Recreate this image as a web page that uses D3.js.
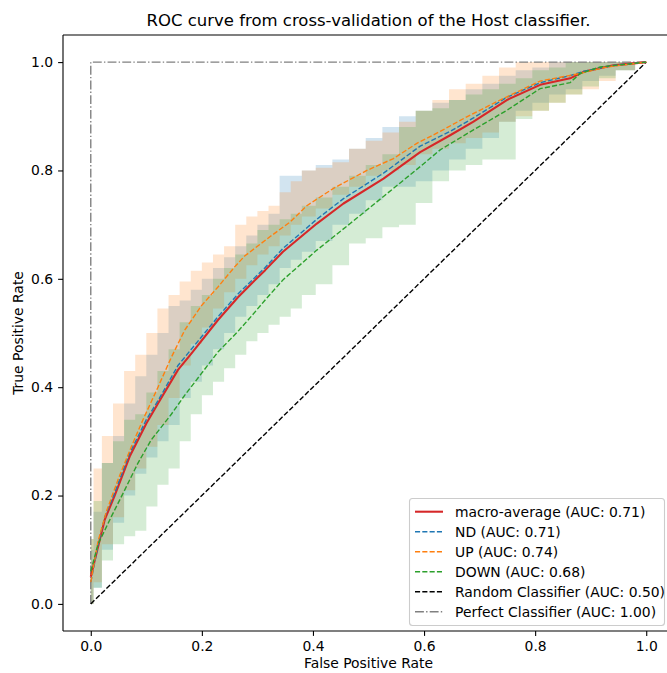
<!DOCTYPE html>
<html>
<head>
<meta charset="utf-8">
<script src="https://cdn.jsdelivr.net/npm/d3@7/dist/d3.min.js"></script>
<style>
  html, body { margin: 0; padding: 0; background: #fff; }
  svg { display: block; font-family: "DejaVu Sans", sans-serif; }
</style>
</head>
<body>
<svg id="chart" width="667" height="673"></svg>
<script>
// ---- ROC curves (mean over folds) ----
const macroFpr = [0, 0.013, 0.025, 0.043, 0.07, 0.1, 0.121, 0.157, 0.181, 0.229, 0.265, 0.29, 0.314, 0.346, 0.407, 0.455, 0.527, 0.593, 0.647, 0.689, 0.749, 0.809, 0.863, 0.887, 0.941, 1];
const macroTpr = [0.05, 0.105, 0.155, 0.2, 0.272, 0.333, 0.37, 0.432, 0.462, 0.524, 0.566, 0.592, 0.616, 0.65, 0.702, 0.739, 0.785, 0.834, 0.865, 0.89, 0.93, 0.958, 0.97, 0.982, 0.994, 1];

const ndFpr = [0, 0.013, 0.025, 0.043, 0.07, 0.1, 0.121, 0.157, 0.181, 0.229, 0.265, 0.29, 0.314, 0.346, 0.407, 0.455, 0.527, 0.593, 0.647, 0.689, 0.749, 0.809, 0.863, 0.887, 0.941, 1];
const ndTpr = [0.04, 0.108, 0.16, 0.205, 0.278, 0.34, 0.375, 0.44, 0.47, 0.53, 0.572, 0.597, 0.621, 0.656, 0.71, 0.748, 0.795, 0.845, 0.872, 0.897, 0.935, 0.962, 0.975, 0.983, 0.994, 1];

const upFpr = [0, 0.013, 0.028, 0.049, 0.073, 0.094, 0.121, 0.145, 0.169, 0.199, 0.229, 0.259, 0.277, 0.3, 0.323, 0.359, 0.389, 0.437, 0.497, 0.545, 0.587, 0.629, 0.677, 0.737, 0.809, 0.881, 0.929, 1];
const upTpr = [0.04, 0.115, 0.17, 0.229, 0.29, 0.34, 0.4, 0.455, 0.505, 0.55, 0.585, 0.622, 0.642, 0.66, 0.678, 0.705, 0.735, 0.767, 0.8, 0.822, 0.85, 0.872, 0.899, 0.93, 0.965, 0.979, 0.991, 1];

const downFpr = [0, 0.013, 0.037, 0.061, 0.085, 0.109, 0.145, 0.169, 0.199, 0.229, 0.265, 0.29, 0.314, 0.346, 0.407, 0.467, 0.527, 0.593, 0.629, 0.689, 0.749, 0.809, 0.863, 0.881, 0.917, 1];
const downTpr = [0.06, 0.11, 0.161, 0.21, 0.26, 0.303, 0.35, 0.385, 0.425, 0.465, 0.503, 0.532, 0.561, 0.598, 0.653, 0.702, 0.752, 0.807, 0.838, 0.875, 0.911, 0.951, 0.962, 0.979, 0.991, 1];

// ---- ±1 std bands, sampled on a common FPR grid ----
const bandFpr = [0, 0.01, 0.03, 0.05, 0.07, 0.09, 0.11, 0.13, 0.15, 0.17, 0.19, 0.21, 0.23, 0.25, 0.27, 0.29, 0.31, 0.33, 0.35, 0.37, 0.39, 0.42, 0.45, 0.48, 0.51, 0.54, 0.57, 0.60, 0.63, 0.66, 0.69, 0.72, 0.75, 0.78, 0.81, 0.84, 0.87, 0.90, 0.93, 0.96, 1.0];

const ndLower = [0, 0.03, 0.10, 0.15, 0.20, 0.24, 0.27, 0.30, 0.33, 0.38, 0.41, 0.44, 0.47, 0.50, 0.53, 0.55, 0.57, 0.59, 0.62, 0.635, 0.65, 0.67, 0.70, 0.72, 0.745, 0.77, 0.77, 0.78, 0.80, 0.82, 0.84, 0.86, 0.89, 0.91, 0.925, 0.94, 0.95, 0.965, 0.975, 0.985, 1];
const ndUpper = [0.10, 0.17, 0.26, 0.31, 0.37, 0.42, 0.46, 0.50, 0.55, 0.56, 0.58, 0.60, 0.62, 0.64, 0.66, 0.68, 0.70, 0.72, 0.79, 0.79, 0.80, 0.81, 0.82, 0.84, 0.86, 0.88, 0.90, 0.91, 0.925, 0.93, 0.95, 0.96, 0.975, 0.985, 0.99, 1, 1, 1, 1, 1, 1];

const upLower = [0, 0.04, 0.11, 0.16, 0.21, 0.25, 0.29, 0.33, 0.38, 0.44, 0.48, 0.51, 0.545, 0.575, 0.60, 0.625, 0.645, 0.66, 0.68, 0.70, 0.715, 0.73, 0.755, 0.77, 0.79, 0.80, 0.81, 0.83, 0.84, 0.85, 0.86, 0.87, 0.89, 0.90, 0.91, 0.925, 0.94, 0.95, 0.965, 0.985, 1];
const upUpper = [0.12, 0.25, 0.31, 0.37, 0.43, 0.46, 0.50, 0.545, 0.57, 0.595, 0.615, 0.63, 0.645, 0.66, 0.70, 0.715, 0.725, 0.735, 0.76, 0.78, 0.80, 0.805, 0.815, 0.84, 0.855, 0.87, 0.89, 0.91, 0.93, 0.95, 0.96, 0.975, 0.99, 1, 1, 1, 1, 1, 1, 1, 1];

const downLower = [0, 0.03, 0.08, 0.11, 0.125, 0.135, 0.18, 0.22, 0.25, 0.30, 0.35, 0.385, 0.41, 0.435, 0.46, 0.485, 0.50, 0.515, 0.53, 0.545, 0.57, 0.59, 0.625, 0.665, 0.675, 0.695, 0.70, 0.74, 0.78, 0.80, 0.81, 0.82, 0.82, 0.895, 0.91, 0.925, 0.94, 0.955, 0.97, 0.985, 1];
const downUpper = [0.12, 0.19, 0.26, 0.30, 0.34, 0.35, 0.39, 0.43, 0.47, 0.52, 0.55, 0.57, 0.60, 0.62, 0.645, 0.665, 0.69, 0.70, 0.71, 0.72, 0.735, 0.75, 0.77, 0.79, 0.81, 0.83, 0.88, 0.91, 0.915, 0.93, 0.94, 0.95, 0.96, 0.97, 0.985, 0.99, 1, 1, 1, 1, 1];

// ---- reference classifiers ----
const randomFpr = [0, 1];
const randomTpr = [0, 1];
const perfectFpr = [0, 0, 1];
const perfectTpr = [0, 1, 1];

// ---- labels ----
const xTicks = [0, 0.2, 0.4, 0.6, 0.8, 1.0];
const yTicks = [0, 0.2, 0.4, 0.6, 0.8, 1.0];
const legendLabels = [
  "macro-average (AUC: 0.71)",
  "ND (AUC: 0.71)",
  "UP (AUC: 0.74)",
  "DOWN (AUC: 0.68)",
  "Random Classifier (AUC: 0.50)",
  "Perfect Classifier (AUC: 1.00)"
];
const titleText = "ROC curve from cross-validation of the Host classifier.";

// ---- layout ----
const svg = d3.select("#chart");
const plot = { left: 63, right: 674, top: 35, bottom: 631 };
const FONT = "13.9px";
const LW = 1.39;
const DASH = "5.1,2.2";
const DASHDOT = "8.9,2.2,1.4,2.2";

const x = d3.scaleLinear().domain([-0.05, 1.05]).range([plot.left, plot.right]);
const y = d3.scaleLinear().domain([-0.05, 1.05]).range([plot.bottom, plot.top]);

const C = {
  blue: "#1f77b4", orange: "#ff7f0e", green: "#2ca02c", red: "#d62728"
};

svg.append("defs").append("clipPath").attr("id", "plotClip")
  .append("rect")
  .attr("x", plot.left).attr("y", plot.top)
  .attr("width", plot.right - plot.left).attr("height", plot.bottom - plot.top);

const g = svg.append("g").attr("clip-path", "url(#plotClip)");

// bands
const bands = [
  { lo: ndLower, hi: ndUpper, color: C.blue },
  { lo: upLower, hi: upUpper, color: C.orange },
  { lo: downLower, hi: downUpper, color: C.green }
];
const area = d3.area()
  .x(d => x(d[0])).y0(d => y(d[1])).y1(d => y(d[2]))
  .curve(d3.curveStep);
bands.forEach(b => {
  const pts = bandFpr.map((f, i) => [f, b.lo[i], b.hi[i]]);
  g.append("path").attr("d", area(pts))
    .attr("fill", b.color).attr("fill-opacity", 0.2).attr("stroke", "none");
});

const line = d3.line().x(d => x(d[0])).y(d => y(d[1]));
const zip = (a, b) => a.map((v, i) => [v, b[i]]);

// reference lines
g.append("path").attr("d", line(zip(perfectFpr, perfectTpr)))
  .attr("fill", "none").attr("stroke", "#808080").attr("stroke-width", LW)
  .attr("stroke-dasharray", DASHDOT);
g.append("path").attr("d", line(zip(randomFpr, randomTpr)))
  .attr("fill", "none").attr("stroke", "#000").attr("stroke-width", LW)
  .attr("stroke-dasharray", DASH);

// mean curves
g.append("path").attr("d", line(zip(macroFpr, macroTpr)))
  .attr("fill", "none").attr("stroke", C.red).attr("stroke-width", 2.08)
  .attr("stroke-linejoin", "round");
[[ndFpr, ndTpr, C.blue], [upFpr, upTpr, C.orange], [downFpr, downTpr, C.green]].forEach(([f, t, c]) => {
  g.append("path").attr("d", line(zip(f, t)))
    .attr("fill", "none").attr("stroke", c).attr("stroke-width", LW)
    .attr("stroke-dasharray", DASH);
});

// spines
const spine = svg.append("g").attr("stroke", "#000").attr("stroke-width", 1.1).attr("fill", "none");
spine.append("line").attr("x1", plot.left).attr("x2", plot.left).attr("y1", plot.top).attr("y2", plot.bottom);
spine.append("line").attr("x1", plot.left).attr("x2", plot.right).attr("y1", plot.bottom).attr("y2", plot.bottom);
spine.append("line").attr("x1", plot.left).attr("x2", plot.right).attr("y1", plot.top).attr("y2", plot.top);

// axes
const fmt = d3.format(".1f");
const xAxis = d3.axisBottom(x).tickValues(xTicks).tickFormat(fmt).tickSize(4.9).tickPadding(4.9);
const yAxis = d3.axisLeft(y).tickValues(yTicks).tickFormat(fmt).tickSize(4.9).tickPadding(4.9);

const gx = svg.append("g").attr("transform", `translate(0,${plot.bottom})`).call(xAxis);
const gy = svg.append("g").attr("transform", `translate(${plot.left},0)`).call(yAxis);
[gx, gy].forEach(a => {
  a.select(".domain").remove();
  a.selectAll(".tick line").attr("stroke", "#000").attr("stroke-width", 1.1);
  a.selectAll(".tick text").attr("fill", "#000")
    .style("font-family", "DejaVu Sans").style("font-size", FONT);
});

// axis titles
svg.append("text").attr("x", (plot.left + plot.right) / 2).attr("y", 668)
  .attr("text-anchor", "middle").style("font-size", FONT).attr("fill", "#000")
  .text("False Positive Rate");
svg.append("text")
  .attr("transform", `translate(23,${(plot.top + plot.bottom) / 2}) rotate(-90)`)
  .attr("text-anchor", "middle").style("font-size", FONT).attr("fill", "#000")
  .text("True Positive Rate");

// title
svg.append("text").attr("x", (plot.left + plot.right) / 2).attr("y", 26)
  .attr("text-anchor", "middle").style("font-size", "16.5px").attr("fill", "#000")
  .text(titleText);

// legend
const legend = svg.append("g");
const lg = { x: 409.5, y: 498.5, w: 255, h: 127 };
legend.append("rect").attr("x", lg.x).attr("y", lg.y).attr("width", lg.w).attr("height", lg.h)
  .attr("rx", 3).attr("fill", "#fff").attr("fill-opacity", 0.8)
  .attr("stroke", "#cccccc").attr("stroke-width", 1.1);

const legendStyles = [
  { color: C.red, width: 2.08, dash: null },
  { color: C.blue, width: LW, dash: DASH },
  { color: C.orange, width: LW, dash: DASH },
  { color: C.green, width: LW, dash: DASH },
  { color: "#000", width: LW, dash: DASH },
  { color: "#808080", width: LW, dash: DASHDOT }
];
legendLabels.forEach((lab, i) => {
  const cy = 511.7 + i * 20;
  const s = legendStyles[i];
  const ln = legend.append("line").attr("x1", 415).attr("x2", 443).attr("y1", cy).attr("y2", cy)
    .attr("stroke", s.color).attr("stroke-width", s.width);
  if (s.dash) ln.attr("stroke-dasharray", s.dash);
  legend.append("text").attr("x", 455).attr("y", cy).attr("dy", "0.36em")
    .style("font-size", FONT).attr("fill", "#000").text(lab);
});
</script>
</body>
</html>
